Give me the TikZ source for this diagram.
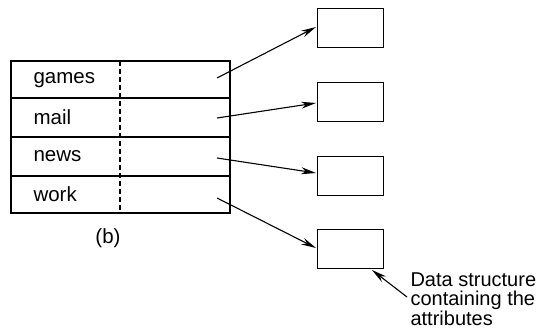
\documentclass[tikz,border=0pt]{standalone}
\usepackage{fontspec}
\setmainfont{Liberation Sans}
\usetikzlibrary{arrows.meta}
\begin{document}
\begin{tikzpicture}[x=1pt,y=-1pt,
  line width=1.1pt,
  lbl/.style={anchor=west,inner sep=0pt,font=\fontsize{20.5}{18}\selectfont},
  attr/.style={draw,minimum width=66pt,minimum height=39pt,inner sep=0pt,anchor=north west},
  ptr/.style={line width=1.1pt,-{Stealth[length=15pt,width=7pt]}}]
\useasboundingbox (0,0) rectangle (549,331);
% table
\draw (11,61) rectangle (230,213);
\draw (11,98) -- (230,98);
\draw (11,137) -- (230,137);
\draw (11,176) -- (230,176);
\draw[dashed,dash pattern=on 5pt off 3pt] (120,61) -- (120,213);
\node[lbl] (games) at (33,80) {games};
\node[lbl] (mail) at (33,117) {mail};
\node[lbl] (news) at (33,156) {news};
\node[lbl] (work) at (33,194) {work};
\coordinate (pg) at (217,78);
\coordinate (pm) at (217,118);
\coordinate (pn) at (217,158);
\coordinate (pw) at (217,198);
% attribute boxes
\node[attr] (b1) at (317,8) {};
\node[attr] (b2) at (317,82) {};
\node[attr] (b3) at (317,156) {};
\node[attr] (b4) at (317,229) {};
\draw[ptr] (pg) -- (316,27);
\draw[ptr] (pm) -- (316,103);
\draw[ptr] (pn) -- (316,173);
\draw[ptr] (pw) -- (316,248);
% labels
\node[font=\fontsize{20.5}{18}\selectfont] (b) at (108,238) {(b)};
\node[lbl,anchor=north west,align=left,font=\fontsize{20}{19.5}\selectfont] (note) at (410,272) {Data structure\\containing the\\attributes};
\coordinate (ns) at (407,297);
\draw[ptr] (ns) -- (372,270);
\end{tikzpicture}
\end{document}
